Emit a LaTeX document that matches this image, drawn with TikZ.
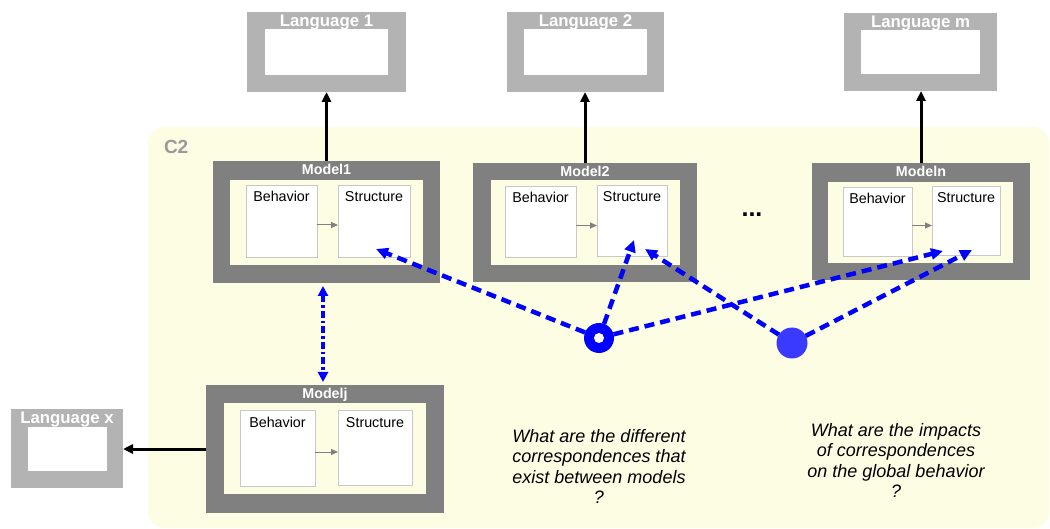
\documentclass[tikz,border=0pt]{standalone}
\usepackage{fontspec}
\setmainfont{Liberation Sans}
\usetikzlibrary{arrows.meta}
\definecolor{bgyellow}{RGB}{253,253,228}
\definecolor{framegray}{RGB}{128,128,128}
\definecolor{langgray}{RGB}{179,179,179}
\definecolor{boxborder}{RGB}{200,200,200}
\definecolor{dotblue}{RGB}{58,58,255}
\definecolor{ctitle}{RGB}{153,153,153}
\begin{document}
\begin{tikzpicture}[x=1pt,y=-1pt,
  every node/.style={inner sep=0pt, outer sep=0pt},
  modelframe/.style={rectangle, fill=framegray},
  langframe/.style={rectangle, fill=langgray},
  innerzone/.style={rectangle, fill=bgyellow},
  langinner/.style={rectangle, fill=white},
  part/.style={rectangle, fill=white, draw=boxborder, line width=0.8pt},
  partlabel/.style={anchor=base, font=\fontsize{14.3}{16}\selectfont},
  mtitle/.style={anchor=base, text=white, font=\bfseries\fontsize{14.3}{16}\selectfont},
  ltitle/.style={anchor=base, text=white, font=\bfseries\fontsize{16.8}{18}\selectfont},
  question/.style={anchor=north, align=center, font=\itshape\fontsize{18}{20.5}\selectfont},
  uparrow/.style={draw=black, line width=3pt, -{Triangle[length=10pt,width=9pt]}},
  inarrow/.style={draw=framegray, line width=1pt, -{Triangle[length=7pt,width=6pt]}},
  corr/.style={draw=blue, line width=4.5pt, dash pattern=on 10pt off 6pt, -{Triangle[length=12pt,width=11pt]}},
  link/.style={draw=blue, line width=3.5pt, dash pattern=on 7pt off 3pt on 2.5pt off 3pt, {Triangle[length=10pt,width=10pt]}-{Triangle[length=10pt,width=10pt]}}
]
\useasboundingbox (0,0) rectangle (1050,529);
% background zone C2
\fill[bgyellow, rounded corners=16pt] (148,127) rectangle (1049,528);
\node[anchor=base west, text=ctitle, font=\bfseries\fontsize{19}{21}\selectfont] (c2) at (164,154) {C2};

% Languages
\node[langframe, minimum width=159pt, minimum height=80pt] (l1) at (326.5,52) {};
\node[langinner, minimum width=123pt, minimum height=46pt] (l1i) at (326.5,52) {};
\node[ltitle] (l1t) at ([yshift=-15pt]l1.north) {Language 1};

\node[langframe, minimum width=157pt, minimum height=80pt] (l2) at (585.5,52) {};
\node[langinner, minimum width=123pt, minimum height=46pt] (l2i) at (585.5,52) {};
\node[ltitle] (l2t) at ([yshift=-15pt]l2.north) {Language 2};

\node[langframe, minimum width=153pt, minimum height=78pt] (lm) at (920.5,52) {};
\node[langinner, minimum width=119pt, minimum height=44pt] (lmi) at (920.5,52) {};
\node[ltitle] (lmt) at ([yshift=-15pt]lm.north) {Language m};

\node[langframe, minimum width=112pt, minimum height=79pt] (lx) at (67,448.5) {};
\node[langinner, minimum width=79pt, minimum height=44pt] (lxi) at (67.5,449) {};
\node[ltitle] (lxt) at ([yshift=-15pt]lx.north) {Language x};

% Model1
\node[modelframe, minimum width=227pt, minimum height=122pt] (m1) at (326.5,222) {};
\node[innerzone, minimum width=193pt, minimum height=85pt] (m1i) at (326.5,222.5) {};
\node[mtitle] (m1t) at ([yshift=-14pt]m1.north) {Model1};
\node[part, minimum width=71pt, minimum height=72pt] (b1) at (281.5,221) {};
\node[part, minimum width=72pt, minimum height=72pt] (s1) at (374,221) {};
\node[partlabel] (b1t) at ([yshift=-17pt]b1.north) {Behavior};
\node[partlabel] (s1t) at ([yshift=-17pt]s1.north) {Structure};
\draw[inarrow] ([yshift=-4pt]b1.east) -- ([yshift=-4pt]s1.west);

% Model2
\node[modelframe, minimum width=224pt, minimum height=119pt] (m2) at (585,222.5) {};
\node[innerzone, minimum width=189pt, minimum height=85pt] (m2i) at (585.5,222.5) {};
\node[mtitle] (m2t) at ([yshift=-14pt]m2.north) {Model2};
\node[part, minimum width=71pt, minimum height=71pt] (b2) at (540.5,221.5) {};
\node[part, minimum width=70pt, minimum height=71pt] (s2) at (632,220.5) {};
\node[partlabel] (b2t) at ([yshift=-17pt]b2.north) {Behavior};
\node[partlabel] (s2t) at ([yshift=-17pt]s2.north) {Structure};
\draw[inarrow] ([yshift=-4pt]b2.east) -- ([yshift=-4pt]b2.east -| s2.west);

% Modeln
\node[modelframe, minimum width=218pt, minimum height=117pt] (mn) at (921,221.5) {};
\node[innerzone, minimum width=185pt, minimum height=81pt] (mni) at (920.5,222.5) {};
\node[mtitle] (mnt) at ([yshift=-14pt]mn.north) {Modeln};
\node[part, minimum width=69pt, minimum height=69pt] (bn) at (877.5,221.5) {};
\node[part, minimum width=68pt, minimum height=69pt] (sn) at (966,220.5) {};
\node[partlabel] (bnt) at ([yshift=-17pt]bn.north) {Behavior};
\node[partlabel] (snt) at ([yshift=-17pt]sn.north) {Structure};
\draw[inarrow] ([yshift=-4pt]bn.east) -- ([yshift=-4pt]bn.east -| sn.west);

% Modelj
\node[modelframe, minimum width=238pt, minimum height=128pt] (mj) at (325,449) {};
\node[innerzone, minimum width=202pt, minimum height=91pt] (mji) at (325,448.5) {};
\node[mtitle] (mjt) at ([yshift=-14pt]mj.north) {Modelj};
\node[part, minimum width=75pt, minimum height=76pt] (bj) at (277.5,448) {};
\node[part, minimum width=74pt, minimum height=75pt] (sj) at (375,447.5) {};
\node[partlabel] (bjt) at ([yshift=-18pt]bj.north) {Behavior};
\node[partlabel] (sjt) at ([yshift=-18pt]sj.north) {Structure};
\draw[inarrow] ([yshift=-4pt]bj.east) -- ([yshift=-4pt]bj.east -| sj.west);

% dots
\node[anchor=base, font=\bfseries\fontsize{25}{27}\selectfont] (dots) at (752,217) {...};

% model to language arrows
\draw[uparrow] (m1.north) -- (m1.north |- l1.south);
\draw[uparrow] (m2.north) -- (m2.north |- l2.south);
\draw[uparrow] (mn.north) -- (mn.north |- lm.south);
\draw[uparrow] (mj.west) -- (mj.west -| lx.east);

% link Model1 - Modelj
\draw[link] ([xshift=-3.5pt,yshift=-3pt]m1.south) -- ([xshift=-2pt,yshift=3pt]mj.north);

% correspondence markers
\node[circle, fill=blue, minimum size=30pt] (ring) at (599,338) {};
\node[circle, fill=white, minimum size=10pt] (ringhole) at (ring) {};
\node[circle, fill=dotblue, minimum size=31pt] (impact) at (792,343) {};

\coordinate (t1) at (376,249);
\coordinate (t2) at (634,240);
\coordinate (t3) at (943,251);
\coordinate (u2) at (645,249);
\coordinate (u3) at (972,250);

\draw[corr] (ring) -- (t1);
\draw[corr] (ring) -- (t2);
\draw[corr] (ring) -- (t3);
\draw[corr] (impact) -- (u2);
\draw[corr] (impact) -- (u3);

% questions
\node[question] (q1) at (599,429) {What are the different\\correspondences that\\exist between models\\?};
\node[question] (q2) at (896,423) {What are the impacts\\of correspondences\\on the global behavior\\?};
\end{tikzpicture}
\end{document}
